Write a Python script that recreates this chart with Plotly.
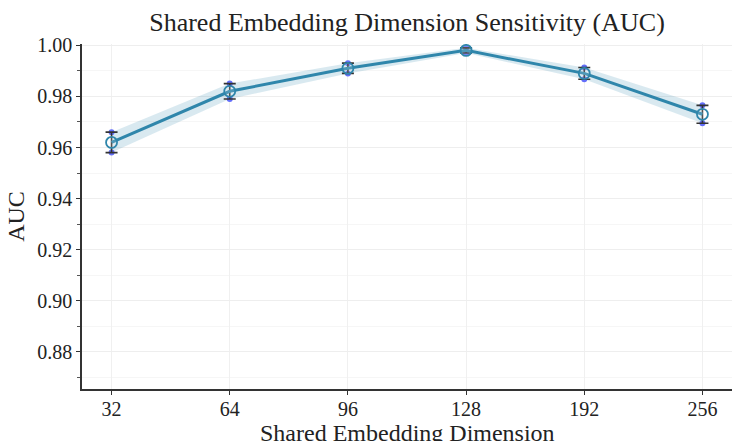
import plotly.graph_objects as go

dims = ["32", "64", "96", "128", "192", "256"]
auc = [0.962, 0.982, 0.991, 0.998, 0.989, 0.973]
auc_std = [0.004, 0.003, 0.002, 0.001, 0.0023, 0.0035]
y_ticks = [0.88, 0.90, 0.92, 0.94, 0.96, 0.98, 1.00]

line_color = "#2f86ab"
font_family = "Liberation Serif, Times New Roman, serif"

upper = [a + s for a, s in zip(auc, auc_std)]
lower = [a - s for a, s in zip(auc, auc_std)]

fig = go.Figure()
fig.add_trace(go.Scatter(
    x=dims + dims[::-1], y=upper + lower[::-1],
    fill="toself", fillcolor="rgba(47,134,171,0.18)",
    line=dict(width=0), hoverinfo="skip", showlegend=False,
))
fig.add_trace(go.Scatter(
    x=dims, y=auc, mode="lines+markers",
    line=dict(color=line_color, width=3),
    marker=dict(symbol="circle", size=11, color="rgba(255,255,255,0.15)",
                line=dict(color=line_color, width=1.8)),
    error_y=dict(type="data", array=auc_std, visible=True,
                 color="#333333", thickness=1.6, width=6),
    showlegend=False,
))

fig.update_layout(
    width=732, height=441,
    margin=dict(l=82, r=0, t=44, b=52),
    paper_bgcolor="white", plot_bgcolor="white",
    font=dict(family=font_family, size=20, color="#222222"),
    title=dict(text="Shared Embedding Dimension Sensitivity (AUC)",
               x=0.5, xref="paper", xanchor="center", y=0.972, yanchor="top",
               font=dict(size=26, family=font_family, color="#222222")),
    annotations=[dict(
        text="Shared Embedding Dimension", xref="paper", yref="paper",
        x=0.5, y=-0.083, xanchor="center", yanchor="top", showarrow=False,
        font=dict(size=24, family=font_family, color="#222222"),
    )],
)
fig.update_xaxes(
    type="category", range=[-0.25, 5.25], automargin=False,
    showline=True, linecolor="#333333", linewidth=1.5,
    ticks="outside", ticklen=4, tickcolor="#333333",
    ticklabelstandoff=-3,
    showgrid=True, gridcolor="#f0f0f0", gridwidth=1,
    tickfont=dict(size=20), zeroline=False,
)
fig.update_yaxes(
    range=[0.8655, 1.0005], automargin=False,
    tickvals=y_ticks, ticktext=[f"{v:.2f}" for v in y_ticks],
    title=dict(text="AUC", standoff=6, font=dict(size=24, family=font_family)),
    showline=True, linecolor="#333333", linewidth=1.5,
    ticks="outside", ticklen=4, tickcolor="#333333",
    showgrid=True, gridcolor="#eeeeee", gridwidth=1,
    minor=dict(dtick=0.01, tick0=0.87, ticks="outside", ticklen=3,
               tickcolor="#555555", showgrid=True, gridcolor="#f6f6f6"),
    tickfont=dict(size=20), zeroline=False,
)

fig.write_html("out.html", config={"displayModeBar": False},
               post_script="document.body.style.margin='0';document.body.style.overflow='hidden';")
